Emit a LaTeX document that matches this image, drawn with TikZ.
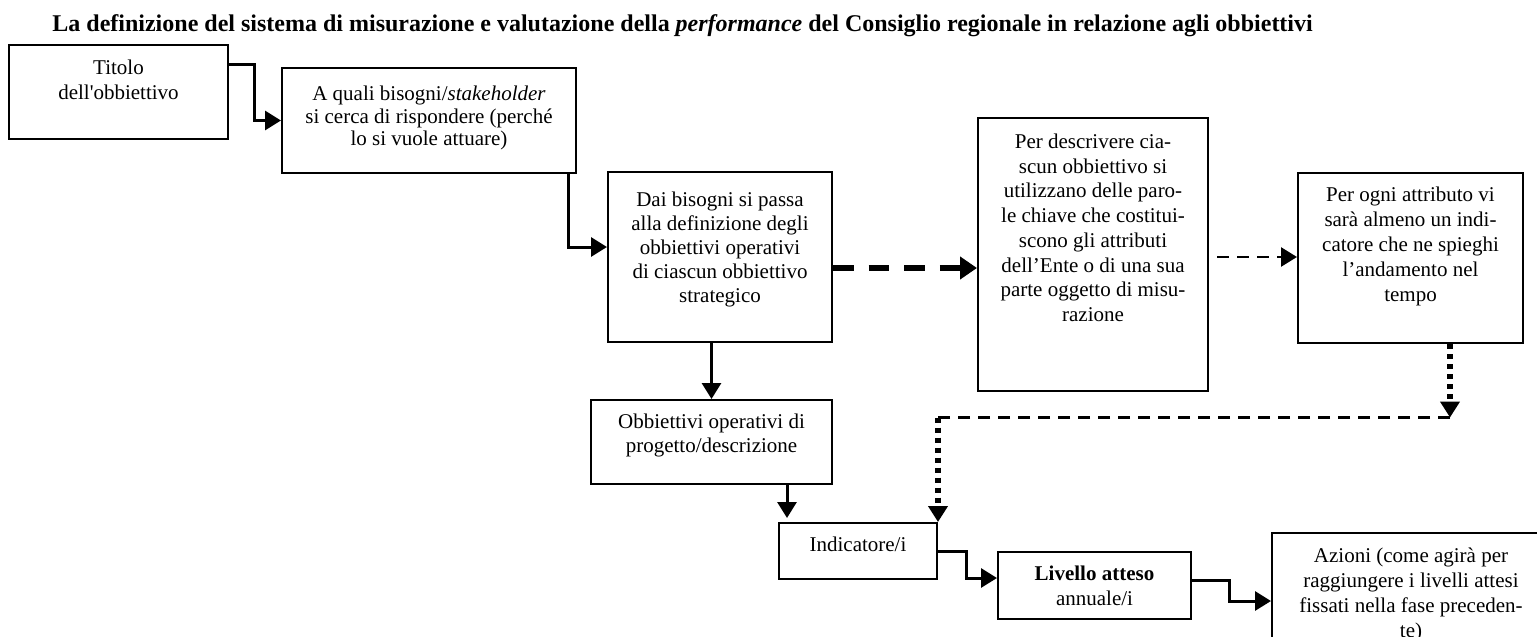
\documentclass[tikz,border=0pt]{standalone}
\usepackage{fontspec}
\setmainfont{Liberation Serif}
\usepackage{tikz}
\usetikzlibrary{arrows.meta}
\usetikzlibrary{positioning}
\tikzset{>={Triangle[length=8pt, width=9.5pt]}}
\tikzset{
    riquadro/.style={draw, line width=1pt, inner sep=0pt},
    testo/.style={align=center, inner sep=0pt, font=\fontsize{10.5}{12.5}\selectfont},
    freccia/.style={line width=1.5pt, ->},
    tratteggio/.style={line width=1.3pt, dash pattern=on 6pt off 4pt},
    tratteggiogrosso/.style={line width=3pt, dash pattern=on 10.3pt off 7.5pt, -{Triangle[length=8.5pt, width=11pt]}},
    punteggiata/.style={line width=3pt, dash pattern=on 2.6pt off 2.4pt, ->},
}

\begin{document}
\begin{tikzpicture}[x=0.5pt, y=-0.5pt]
    \useasboundingbox (0,0) rectangle (1537,637);
    \clip (0,0) rectangle (1537,637);
    \node[anchor=base west, inner sep=0pt, font=\fontsize{12}{14}\selectfont\bfseries] (intestazione) at (52,31.5) {La definizione del sistema di misurazione e valutazione della \textit{performance} del Consiglio regionale in relazione agli obbiettivi};

    \node[riquadro, minimum width=109.5pt, minimum height=47pt] (titolo) at (118.5,92) {};
    \node[riquadro, minimum width=147pt, minimum height=52.5pt] (bisogni) at (429,120.5) {};
    \node[riquadro, minimum width=112pt, minimum height=85pt] (passa) at (720,257) {};
    \node[riquadro, minimum width=115pt, minimum height=136.5pt] (chiave) at (1093,254.5) {};
    \node[riquadro, minimum width=112.5pt, minimum height=85pt] (attributo) at (1410.5,258) {};
    \node[riquadro, minimum width=120.5pt, minimum height=42pt] (operativi) at (711.5,442) {};
    \node[riquadro, minimum width=79pt, minimum height=28pt] (indicatore) at (858,551) {};
    \node[riquadro, minimum width=96.5pt, minimum height=33.5pt] (livello) at (1094.5,585.5) {};
    \node[riquadro, minimum width=139pt, minimum height=73.5pt] (azioni) at (1411,606.5) {};

    \node[testo, below=8pt of titolo.north] (titolo-t) {Titolo\\dell\textquotesingle obbiettivo};
    \node[testo, font=\fontsize{10.5}{11.25}\selectfont, below=9.5pt of bisogni.north] (bisogni-t) {A quali bisogni/\textit{stakeholder}\\si cerca di rispondere (perché\\lo si vuole attuare)};
    \node[testo, font=\fontsize{10.5}{12}\selectfont, below=10.25pt of passa.north] (passa-t) {Dai bisogni si passa\\alla definizione degli\\obbiettivi operativi\\di ciascun obbiettivo\\strategico};
    \node[testo, font=\fontsize{10.5}{12.35}\selectfont, below=8.3pt of chiave.north] (chiave-t) {Per descrivere cia-\\scun obbiettivo si\\utilizzano delle paro-\\le chiave che costitui-\\scono gli attributi\\dell’Ente o di una sua\\parte oggetto di misu-\\razione};
    \node[testo, below=7.5pt of attributo.north] (attributo-t) {Per ogni attributo vi\\sarà almeno un indi-\\catore che ne spieghi\\l’andamento nel\\tempo};
    \node[testo, font=\fontsize{10.5}{12}\selectfont, below=7.5pt of operativi.north] (operativi-t) {Obbiettivi operativi di\\progetto/descrizione};
    \node[testo, below=7.5pt of indicatore.north] (indicatore-t) {Indicatore/i};
    \node[testo, below=7.5pt of livello.north] (livello-t) {\textbf{Livello atteso}\\annuale/i};
    \node[testo, below=7.5pt of azioni.north] (azioni-t) {Azioni (come agirà per\\raggiungere i livelli attesi\\fissati nella fase preceden-\\te)};

    \coordinate (cd) at ([yshift=-5.5pt]passa.east);
    \coordinate (de) at ([yshift=-1.25pt]chiave.east);
    \coordinate (fg) at ([xshift=4.5pt]indicatore.north west);
    \coordinate (svolta1) at (1450,417.5);
    \coordinate (svolta2) at (indicatore.north east |- svolta1);

    \draw[freccia] ([yshift=-10pt]titolo.north east) -| ([xshift=-13.5pt]bisogni.west) -- (bisogni.west);
    \draw[freccia] ([xshift=-4.5pt]bisogni.south east) |- ([yshift=5pt]passa.west);
    \draw[tratteggiogrosso] (cd) -- (cd -| chiave.west);
    \draw[tratteggio, ->, shorten <=4pt] (de) -- (de -| attributo.west);
    \draw[punteggiata] (attributo.south -| svolta1) -- (svolta1);
    \draw[tratteggio] (svolta1) -- (svolta2);
    \draw[punteggiata] (svolta2) -- (indicatore.north east);
    \draw[freccia] (passa.south -| operativi.north) -- (operativi.north);
    \draw[freccia, shorten >=2pt] (operativi.south -| fg) -- (fg);
    \draw[freccia] (indicatore.east) -| ([xshift=-15.5pt, yshift=3.75pt]livello.west) -- ([yshift=3.75pt]livello.west);
    \draw[freccia] ([yshift=2.75pt]livello.east) -| ([xshift=-21pt, yshift=2.75pt]azioni.west) -- ([yshift=2.75pt]azioni.west);
\end{tikzpicture}
\end{document}
